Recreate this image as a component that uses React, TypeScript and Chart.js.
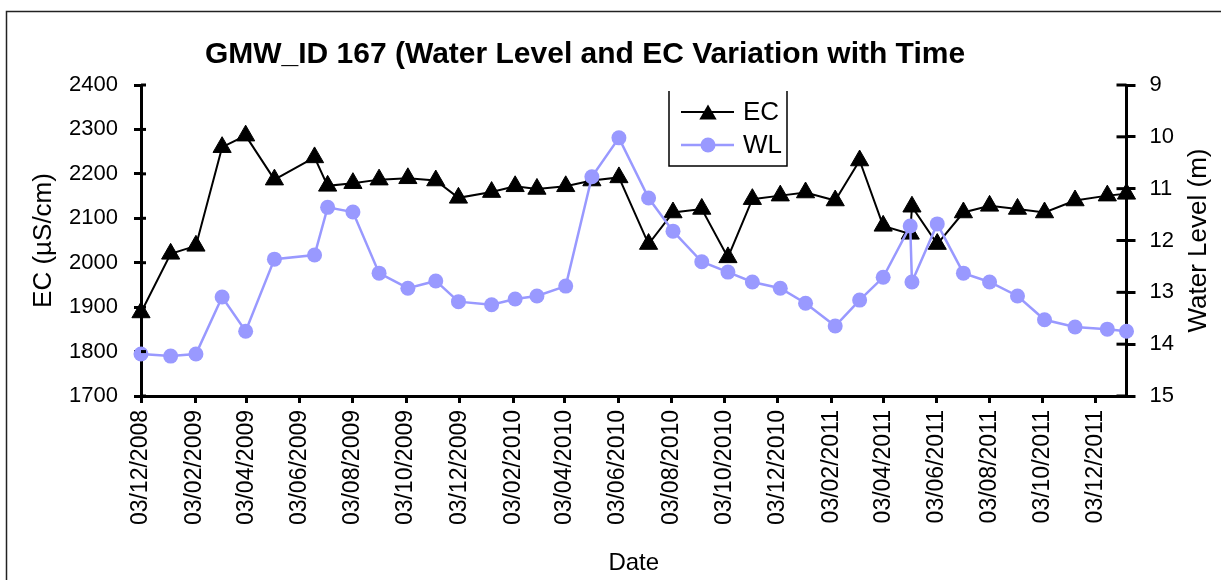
import React, { useEffect, useRef } from "react";
import { Chart, registerables } from "chart.js";

Chart.register(...registerables);

const chartTitle = "GMW_ID 167 (Water Level and EC Variation with Time";
const xAxisTitle = "Date";
const ecAxisTitle = "EC (µS/cm)";
const wlAxisTitle = "Water Level (m)";
const seriesNames = ["EC", "WL"];

const sampleDates = [
  "2008-12-03", "2009-01-06", "2009-02-04", "2009-03-06", "2009-04-02",
  "2009-05-05", "2009-06-20", "2009-07-05", "2009-08-03", "2009-09-02",
  "2009-10-05", "2009-11-06", "2009-12-02", "2010-01-09", "2010-02-05",
  "2010-03-02", "2010-04-04", "2010-05-04", "2010-06-04", "2010-07-08",
  "2010-08-05", "2010-09-07", "2010-10-07", "2010-11-04", "2010-12-06",
  "2011-01-04", "2011-02-07", "2011-03-07", "2011-04-03", "2011-05-04",
  "2011-05-06", "2011-06-04", "2011-07-04", "2011-08-03", "2011-09-04",
  "2011-10-05", "2011-11-09", "2011-12-16", "2012-01-07",
];

const ecValues = [
  1888, 2020, 2038, 2260, 2286,
  2187, 2237, 2173, 2179, 2187,
  2190, 2185, 2146, 2159, 2172,
  2166, 2172, 2185, 2192, 2042,
  2113, 2121, 2012, 2143, 2151,
  2158, 2140, 2230, 2083, 2065,
  2126, 2042, 2113, 2128, 2121,
  2113, 2140, 2151, 2155,
];

const wlValues = [
  14.19, 14.23, 14.19, 13.09, 13.75,
  12.36, 12.28, 11.36, 11.45, 12.63,
  12.92, 12.78, 13.18, 13.24, 13.13,
  13.07, 12.88, 10.77, 10.02, 11.18,
  11.82, 12.41, 12.61, 12.8, 12.92,
  13.21, 13.65, 13.15, 12.71, 11.72,
  12.8, 11.68, 12.63, 12.8, 13.07,
  13.53, 13.67, 13.71, 13.75,
];

const xTickLabels = [
  "03/12/2008", "03/02/2009", "03/04/2009", "03/06/2009", "03/08/2009",
  "03/10/2009", "03/12/2009", "03/02/2010", "03/04/2010", "03/06/2010",
  "03/08/2010", "03/10/2010", "03/12/2010", "03/02/2011", "03/04/2011",
  "03/06/2011", "03/08/2011", "03/10/2011", "03/12/2011",
];

const ecMin = 1700;
const ecMax = 2400;
const ecStep = 100;
const wlMin = 9;
const wlMax = 15;
const wlStep = 1;

const DAY = 86400000;
const isoToUTC = (iso: string) => {
  const [y, m, d] = iso.split("-").map(Number);
  return Date.UTC(y, m - 1, d);
};
const origin = isoToUTC(sampleDates[0]);
const dayOfIso = (iso: string) => Math.round((isoToUTC(iso) - origin) / DAY);
const dayOfLabel = (lbl: string) => {
  const [d, m, y] = lbl.split("/").map(Number);
  return Math.round((Date.UTC(y, m - 1, d) - origin) / DAY);
};
const tickDays = xTickLabels.map(dayOfLabel);
const labelByDay: Record<number, string> = {};
xTickLabels.forEach((l, i) => (labelByDay[tickDays[i]] = l));

const WL_COLOR = "#9999FF";
const FONT = "'Liberation Sans', Arial, sans-serif";

const decorPlugin = {
  id: "decor",
  afterDraw(chart: any) {
    const ctx = chart.ctx as CanvasRenderingContext2D;
    const area = chart.chartArea;
    ctx.save();

    // outer frame
    ctx.strokeStyle = "#222";
    ctx.lineWidth = 1.5;
    ctx.strokeRect(6.5, 11.5, 1400, 800);

    // title
    ctx.fillStyle = "#000";
    ctx.font = `bold 30px ${FONT}`;
    ctx.textAlign = "center";
    ctx.textBaseline = "middle";
    ctx.fillText(chartTitle, 585, 55);

    // right axis title (reads bottom to top)
    ctx.save();
    ctx.translate(1199, (area.top + area.bottom) / 2);
    ctx.rotate(-Math.PI / 2);
    ctx.font = `26px ${FONT}`;
    ctx.fillText(wlAxisTitle, 0, 0);
    ctx.restore();

    // inward tick halves (cross ticks)
    ctx.strokeStyle = "#000";
    ctx.lineWidth = 3;
    const yl = chart.scales.y;
    yl.ticks.forEach((t: any) => {
      const py = yl.getPixelForValue(t.value);
      ctx.beginPath();
      ctx.moveTo(area.left, py);
      ctx.lineTo(area.left + 5, py);
      ctx.stroke();
    });
    const yr = chart.scales.y1;
    yr.ticks.forEach((t: any) => {
      const py = yr.getPixelForValue(t.value);
      ctx.beginPath();
      ctx.moveTo(area.right, py);
      ctx.lineTo(area.right - 10, py);
      ctx.stroke();
    });

    // legend
    const lx = 669, ly = 91, lw = 118, lh = 75;
    ctx.lineWidth = 1.5;
    ctx.strokeStyle = "#000";
    ctx.beginPath();
    ctx.moveTo(lx, ly);
    ctx.lineTo(lx, ly + lh);
    ctx.lineTo(lx + lw, ly + lh);
    ctx.lineTo(lx + lw, ly);
    ctx.stroke();

    const rows = [
      { y: 112, color: "#000", style: "triangle", name: seriesNames[0], lw: 2 },
      { y: 145, color: WL_COLOR, style: "circle", name: seriesNames[1], lw: 2.5 },
    ];
    rows.forEach((r) => {
      ctx.strokeStyle = r.color;
      ctx.lineWidth = r.lw;
      ctx.beginPath();
      ctx.moveTo(681, r.y);
      ctx.lineTo(734, r.y);
      ctx.stroke();
      ctx.fillStyle = r.color;
      ctx.beginPath();
      const cx = 708;
      if (r.style === "triangle") {
        const rad = 10;
        ctx.moveTo(cx, r.y - rad + 2.5);
        ctx.lineTo(cx + 0.866 * rad, r.y + 0.5 * rad + 2.5);
        ctx.lineTo(cx - 0.866 * rad, r.y + 0.5 * rad + 2.5);
        ctx.closePath();
      } else {
        ctx.arc(cx, r.y, 7.5, 0, Math.PI * 2);
      }
      ctx.fill();
      ctx.fillStyle = "#000";
      ctx.font = `26px ${FONT}`;
      ctx.textAlign = "left";
      ctx.textBaseline = "middle";
      ctx.fillText(r.name, 743, r.y + 1);
    });

    ctx.restore();
  },
};

export default function App() {
  const ref = useRef<HTMLCanvasElement | null>(null);

  useEffect(() => {
    if (!ref.current) return;
    const ecData = sampleDates.map((d, i) => ({ x: dayOfIso(d), y: ecValues[i] }));
    const wlData = sampleDates.map((d, i) => ({ x: dayOfIso(d), y: wlValues[i] }));
    const lastDay = dayOfIso(sampleDates[sampleDates.length - 1]);

    const chart = new Chart(ref.current, {
      type: "line",
      data: {
        datasets: [
          {
            label: seriesNames[0],
            data: ecData,
            yAxisID: "y",
            order: 1,
            borderColor: "#000",
            backgroundColor: "#000",
            borderWidth: 2,
            pointStyle: "triangle",
            pointRadius: 10.5,
            pointBorderWidth: 1,
            pointBackgroundColor: "#000",
            pointBorderColor: "#000",
            tension: 0,
            clip: false,
          },
          {
            label: seriesNames[1],
            data: wlData,
            yAxisID: "y1",
            order: 0,
            borderColor: WL_COLOR,
            backgroundColor: WL_COLOR,
            borderWidth: 2.5,
            pointStyle: "circle",
            pointRadius: 7.5,
            pointBorderWidth: 0,
            pointBackgroundColor: WL_COLOR,
            pointBorderColor: WL_COLOR,
            tension: 0,
            clip: false,
          },
        ],
      },
      options: {
        responsive: false,
        animation: false,
        events: [],
        layout: { padding: { top: 85, left: 0, right: 0, bottom: 0 } },
        plugins: {
          legend: { display: false },
          title: { display: false },
          tooltip: { enabled: false },
        },
        scales: {
          x: {
            type: "linear",
            position: "bottom",
            min: 0,
            max: lastDay,
            afterBuildTicks: (s: any) => {
              s.ticks = tickDays.map((v) => ({ value: v }));
            },
            afterFit: (s: any) => {
              s.height = 184;
            },
            ticks: {
              autoSkip: false,
              minRotation: 90,
              maxRotation: 90,
              padding: 7,
              color: "#000",
              font: { family: FONT, size: 23 },
              callback: (v: any) => labelByDay[v as number] ?? "",
            },
            grid: {
              drawOnChartArea: false,
              drawTicks: true,
              tickLength: 7,
              color: "#000",
              lineWidth: 3,
            },
            border: { color: "#000", width: 3 },
            title: {
              display: true,
              text: xAxisTitle,
              color: "#000",
              font: { family: FONT, size: 24 },
              padding: { top: 4, bottom: 2 },
            },
          },
          y: {
            type: "linear",
            position: "left",
            min: ecMin,
            max: ecMax,
            afterFit: (s: any) => {
              s.width = 141;
            },
            ticks: {
              stepSize: ecStep,
              padding: 16,
              color: "#000",
              font: { family: FONT, size: 22 },
              callback: (v: any) => String(v),
            },
            grid: {
              drawOnChartArea: false,
              drawTicks: true,
              tickLength: 7,
              color: "#000",
              lineWidth: 3,
            },
            border: { color: "#000", width: 3 },
            title: {
              display: true,
              text: ecAxisTitle,
              color: "#000",
              font: { family: FONT, size: 26 },
              padding: { top: 28, bottom: 0 },
            },
          },
          y1: {
            type: "linear",
            position: "right",
            min: wlMin,
            max: wlMax,
            reverse: true,
            afterFit: (s: any) => {
              s.width = 94.5;
            },
            ticks: {
              stepSize: wlStep,
              padding: 14,
              color: "#000",
              font: { family: FONT, size: 22 },
              callback: (v: any) => String(v),
            },
            grid: {
              drawOnChartArea: false,
              drawTicks: true,
              tickLength: 9,
              color: "#000",
              lineWidth: 3,
            },
            border: { color: "#000", width: 3 },
          },
        },
      },
      plugins: [decorPlugin],
    });

    return () => chart.destroy();
  }, []);

  return (
    <div
      style={{
        position: "fixed",
        left: 0,
        top: 0,
        width: 1221,
        height: 580,
        background: "#fff",
      }}
    >
      <canvas ref={ref} width={1221} height={580} style={{ display: "block" }} />
    </div>
  );
}
